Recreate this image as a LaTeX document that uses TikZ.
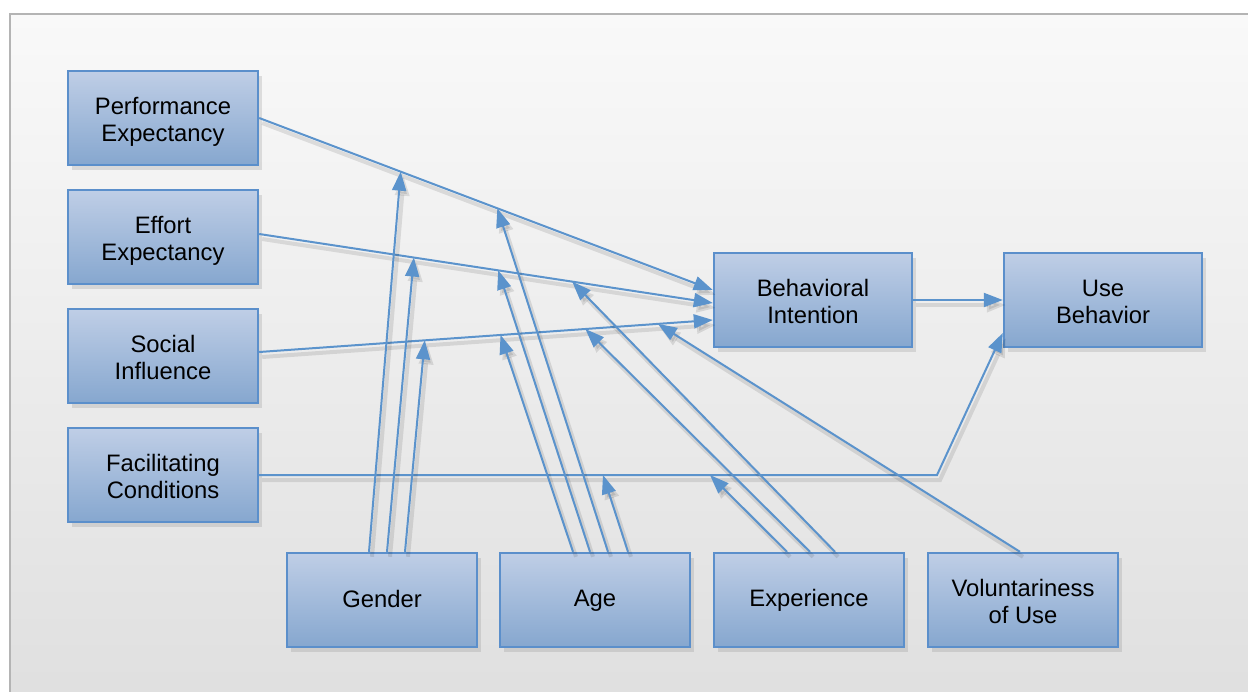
\documentclass[tikz,border=0pt]{standalone}
\usepackage{fontspec}
\setmainfont{Liberation Sans}
\usetikzlibrary{arrows.meta,shadows,calc}
\definecolor{lineblue}{HTML}{5B93CC}
\definecolor{boxtop}{HTML}{BFCEE6}
\definecolor{boxbot}{HTML}{86A7CF}
\definecolor{boxborder}{HTML}{5B8FCB}
\definecolor{framegray}{HTML}{B4B4B4}
\definecolor{bgtop}{HTML}{F9F9F9}
\definecolor{bgbot}{HTML}{DFDFDF}
\newcommand\onestrut{\rule[-2pt]{0pt}{11pt}}
\newcommand\twol[2]{\raisebox{0pt}[23.5pt][0pt]{\begin{tabular}[b]{@{}c@{}}#1\\#2\end{tabular}}}
\begin{document}
\begin{tikzpicture}[x=0.5pt,y=-0.5pt,
  box/.style={draw=boxborder, line width=1.2pt, top color=boxtop, bottom color=boxbot,
    minimum width=95pt, minimum height=47pt, inner sep=0pt,
    font=\fontsize{11.9}{13.5}\selectfont,
    drop shadow={opacity=0.22, shadow xshift=2pt, shadow yshift=-2.5pt}},
  onebox/.style={box, execute at begin node=\onestrut},
  plain/.style={draw=lineblue, line width=1pt,
    preaction={draw=black, opacity=0.10, line width=2pt, transform canvas={shift={(1.5pt,-2.5pt)}}}},
  link/.style={plain, -{Triangle[length=9.5pt,width=7pt]}}]
\useasboundingbox (0,0) rectangle (1248,691);
% frame
\draw[draw=framegray, line width=1pt, top color=bgtop, bottom color=bgbot] (10,14) rectangle (1270,712);

% nodes
\node[box] (pe) at (163,118) {\twol{Performance}{Expectancy}};
\node[box] (ee) at (163,237) {\twol{Effort}{Expectancy}};
\node[box] (si) at (163,356) {\twol{Social}{Influence}};
\node[box] (fc) at (163,475) {\twol{Facilitating}{Conditions}};
\node[box, minimum width=99pt] (bi) at (813,300) {\twol{Behavioral}{Intention}};
\node[box, minimum width=99pt] (ub) at (1103,300) {\twol{Use}{Behavior}};
\node[onebox] (gender) at (382,600) {Gender};
\node[onebox] (age) at (595,600) {Age};
\node[onebox] (exp) at (809,600) {Experience};
\node[box] (vol) at (1023,600) {\twol{Voluntariness}{of Use}};

% main line end points
\coordinate (peS) at (pe.east);
\coordinate (peE) at ($(bi.west)+(0,-10)$);
\coordinate (eeS) at ($(ee.east)+(0,-3)$);
\coordinate (eeE) at ($(bi.west)+(0,3)$);
\coordinate (siS) at ($(si.east)+(0,-4)$);
\coordinate (siE) at ($(bi.west)+(0,20)$);
\coordinate (fcK) at (937,475);
\coordinate (ubE) at ($(ub.west)+(0,33)$);

% moderator targets on the lines
\coordinate (gPE) at ($(peS)!0.312!(peE)$);
\coordinate (aPE) at ($(peS)!0.525!(peE)$);
\coordinate (gEE) at ($(eeS)!0.341!(eeE)$);
\coordinate (aEE) at ($(eeS)!0.527!(eeE)$);
\coordinate (xEE) at ($(eeS)!0.690!(eeE)$);
\coordinate (gSI) at ($(siS)!0.365!(siE)$);
\coordinate (aSI) at ($(siS)!0.532!(siE)$);
\coordinate (xSI) at ($(siS)!0.719!(siE)$);
\coordinate (vSI) at ($(siS)!0.879!(siE)$);
\coordinate (aFC) at (603,475);
\coordinate (xFC) at (710,475);

% main paths
\draw[link] (peS) -- (peE);
\draw[link] (eeS) -- (eeE);
\draw[link] (siS) -- (siE);
\draw[link] (bi.east) -- (ub.west);
\draw[link] (fc.east) -- (fcK) -- (ubE);

% gender
\draw[link] ($(gender.north)+(-13,0)$) -- (gPE);
\draw[link] ($(gender.north)+(5,0)$) -- (gEE);
\draw[link] ($(gender.north)+(23,0)$) -- (gSI);
% age
\draw[link] ($(age.north)+(-22,0)$) -- (aSI);
\draw[link] ($(age.north)+(-5,0)$) -- (aEE);
\draw[link] ($(age.north)+(13,0)$) -- (aPE);
\draw[link] ($(age.north)+(33,0)$) -- (aFC);
% experience
\draw[link] ($(exp.north)+(-22,0)$) -- (xFC);
\draw[link] ($(exp.north)+(1,0)$) -- (xSI);
\draw[link] ($(exp.north)+(26,0)$) -- (xEE);
% voluntariness
\draw[link] ($(vol.north)+(-3,0)$) -- (vSI);
\end{tikzpicture}
\end{document}
